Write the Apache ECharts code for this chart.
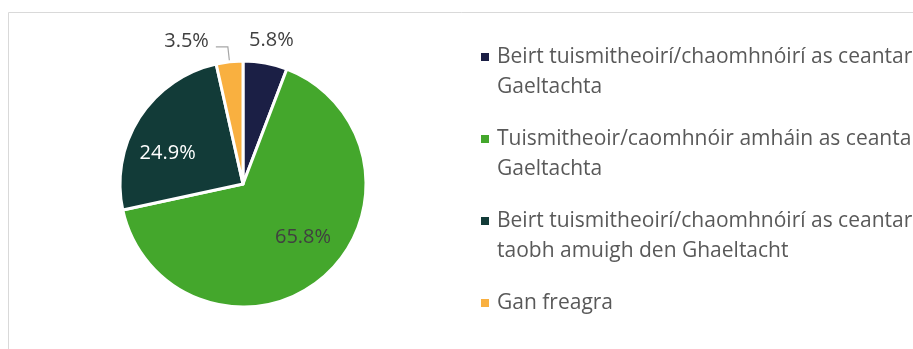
<!DOCTYPE html>
<html>
<head>
<meta charset="utf-8">
<script src="https://cdn.jsdelivr.net/npm/echarts@6/dist/echarts.min.js"></script>
<style>
  html, body { margin: 0; padding: 0; background: #fff; }
  #chart { width: 913px; height: 349px; }
</style>
</head>
<body>
<div id="chart"></div>
<script>
// Legend lines (each category wraps onto two lines, except the last)
const categories = [
  ['Beirt tuismitheoirí/chaomhnóirí as ceantar', 'Gaeltachta'],
  ['Tuismitheoir/caomhnóir amháin as ceantar', 'Gaeltachta'],
  ['Beirt tuismitheoirí/chaomhnóirí as ceantar', 'taobh amuigh den Ghaeltacht'],
  ['Gan freagra']
];
const shares = [5.8, 65.8, 24.9, 3.5];
const colors = ['#1b1f45', '#44a72c', '#123b38', '#f9b040'];
const labelColors = ['#404040', '#404040', '#ffffff', '#404040'];

const names = categories.map(c => c.join(' '));

const FONT = 'Open Sans';
const LH = 30;

// Rich-text styles: one coloured square per category, aligned with the first line
const rich = {
  t: { fontFamily: FONT, fontSize: 21, color: '#595959', lineHeight: LH },
  pad: { width: 16, lineHeight: LH },
  gap: { width: 8, lineHeight: LH }
};
colors.forEach((c, i) => {
  rich['sq' + i] = { width: 8, height: 8, backgroundColor: c, lineHeight: LH };
});

const chart = echarts.init(document.getElementById('chart'), null, { renderer: 'canvas' });

// Fine offsets for slice labels
const labelShift = [
  [-17, -19],
  [18, 4],
  [-21, 4],
  [-3, -6]
];

chart.setOption({
  animation: false,
  graphic: [{
    type: 'rect',
    shape: { x: 8.5, y: 12.5, width: 1000, height: 500 },
    style: { fill: 'none', stroke: '#d9d9d9', lineWidth: 1 },
    silent: true
  }],
  legend: {
    orient: 'vertical',
    left: 476,
    top: 42,
    padding: 0,
    icon: 'none',
    itemWidth: 0,
    itemHeight: 8,
    itemGap: 22,
    selectedMode: false,
    data: names,
    formatter: name => {
      const i = names.indexOf(name);
      const lines = categories[i];
      let s = '{sq' + i + '|}{gap|}{t|' + lines[0] + '}';
      for (let k = 1; k < lines.length; k++) s += '\n{pad|}{t|' + lines[k] + '}';
      return s;
    },
    textStyle: { fontSize: 21, lineHeight: LH, rich: rich }
  },
  series: [{
    type: 'pie',
    center: [243, 184],
    radius: 123,
    startAngle: 90,
    clockwise: true,
    avoidLabelOverlap: false,
    itemStyle: { borderColor: '#ffffff', borderWidth: 3 },
    label: {
      fontFamily: FONT,
      fontSize: 20,
      formatter: p => p.value.toFixed(1) + '%'
    },
    labelLayout: p => ({ dx: labelShift[p.dataIndex][0], dy: labelShift[p.dataIndex][1] }),
    data: shares.map((v, i) => {
      const item = {
        name: names[i],
        value: v,
        itemStyle: { color: colors[i] },
        label: { color: labelColors[i] }
      };
      if (i === 1 || i === 2) {
        item.label.position = 'inside';
      } else if (i === 0) {
        item.label.position = 'outside';
        item.label.distanceToLabelLine = 0;
        item.labelLine = { show: false, length: 4, length2: 0 };
      } else {
        item.label.position = 'outside';
        item.label.distanceToLabelLine = 4;
        item.labelLine = { show: true, length: 15, length2: 12, lineStyle: { color: '#a6a6a6', width: 1.2 } };
      }
      return item;
    })
  }]
});
</script>
</body>
</html>
